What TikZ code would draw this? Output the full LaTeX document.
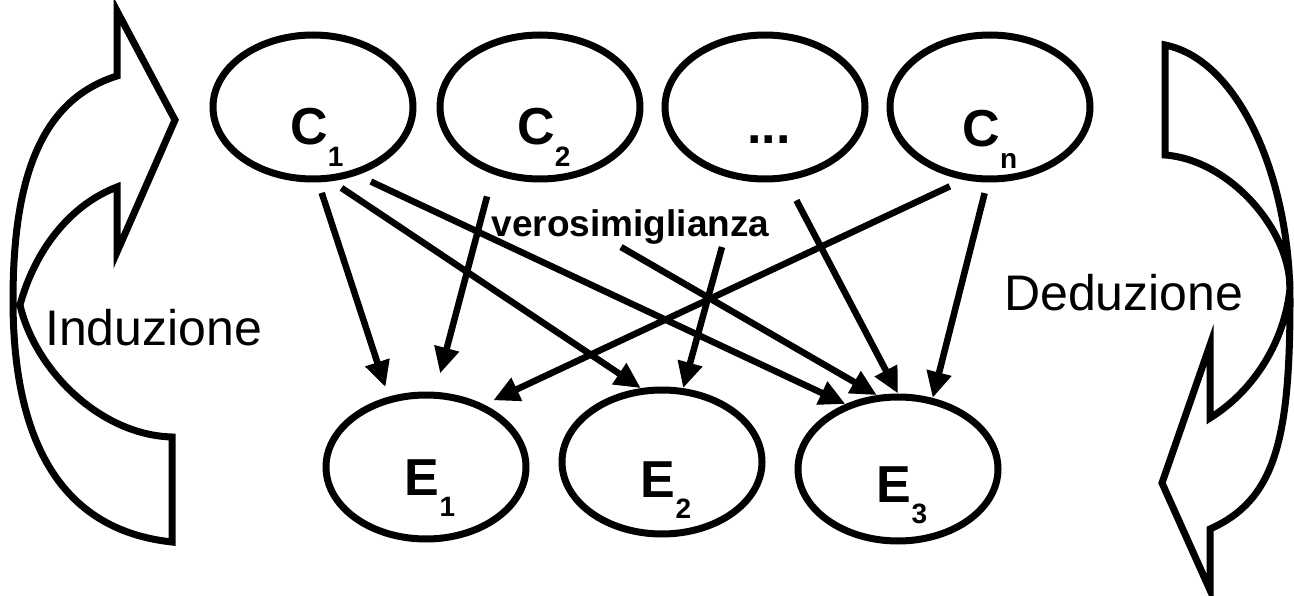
\documentclass[tikz,border=0pt]{standalone}
\usepackage{fontspec}
\setmainfont{Liberation Sans}
\usetikzlibrary{arrows.meta,shapes.geometric}
\newcommand{\subsz}{\fontsize{28}{28}\selectfont}
\newcommand{\ellab}[4][8pt]{\smash{\raisebox{-#4pt}{\makebox[0pt]{\hspace*{#1}#2\raisebox{-21.5pt}{\subsz #3}}}}}
\begin{document}
\begin{tikzpicture}[x=1pt,y=-1pt,
  ell/.style={ellipse,draw,line width=7pt,minimum width=200pt,minimum height=144pt,inner sep=0pt,font=\fontsize{52}{52}\selectfont\bfseries},
  conn/.style={line width=6.5pt,-{Triangle[length=26pt,width=24pt]}},
  bigarrow/.style={draw,line width=7pt,line join=miter,fill=white},
  side/.style={font=\fontsize{50}{50}\selectfont,anchor=base west,inner sep=0pt},
  lik/.style={font=\fontsize{37}{37}\selectfont\bfseries,anchor=base,inner sep=0pt}]
\useasboundingbox (0,0) rectangle (1294,596);
% curved arrows
\draw[bigarrow] (175,120) -- (117,11) -- (117,76)
  .. controls (40,100) and (13,180) .. (13,300)
  .. controls (13,440) and (60,530) .. (172,542) -- (172,437)
  .. controls (100,435) and (35,370) .. (20,305)
  .. controls (35,250) and (70,205) .. (117,187) -- (117,252) -- cycle;
\draw[bigarrow] (1165,45) .. controls (1240,60) and (1290,180) .. (1290,300)
  .. controls (1290,440) and (1275,500) .. (1210,529) -- (1210,590) -- (1162,483)
  -- (1210,345) -- (1210,418)
  .. controls (1255,390) and (1285,340) .. (1290,288)
  .. controls (1290,230) and (1230,160) .. (1165,155) -- cycle;
\node[side] (ind) at (45,345) {Induzione};
\node[side] (ded) at (1004,310) {Deduzione};
% nodes
\node[ell] (C1) at (313,107) {\ellab{C}{1}{38}};
\node[ell] (C2) at (540,107) {\ellab{C}{2}{38}};
\node[ell] (Cd) at (765,107) {\ellab{...}{}{37}};
\node[ell] (Cn) at (990,107) {\ellab[0pt]{C}{n}{40}};
\node[ell] (E1) at (426,467) {\ellab{E}{1}{28}};
\node[ell] (E2) at (662,462) {\ellab{E}{2}{35}};
\node[ell] (E3) at (898,469) {\ellab{E}{3}{33}};
\node[lik] (lik) at (630.5,237) {verosimiglianza};
% connectors
\draw[conn,shorten <=11pt,shorten >=10pt] (C1.-86.7) -- (E1.118.6);
\draw[conn,shorten <=12pt] (C1.-76.9) -- (E2.106.8);
\draw[conn,shorten <=15pt] (C1.-57) -- (E3.129.4);
\draw[conn,shorten <=23pt,shorten >=19pt] (C2.-125.7) -- (E1.83.9);
\draw[conn] ([xshift=-9.5pt,yshift=-2pt]lik.south) -- (E3.106.2);
\draw[conn] ([xshift=91.5pt,yshift=-2pt]lik.south) -- (E2.74.9);
\draw[conn,shorten <=22pt] (Cd.-74.7) -- (E3.90);
\draw[conn,shorten <=15pt,shorten >=10pt] (Cn.-110.4) -- (E1.47.6);
\draw[conn,shorten <=11pt] (Cn.-92) -- (E3.64.7);
\end{tikzpicture}
\end{document}
